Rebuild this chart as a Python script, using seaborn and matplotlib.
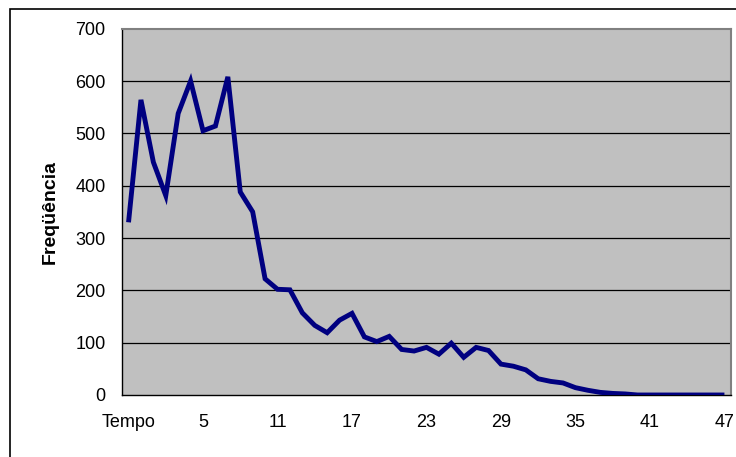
import numpy as np
import pandas as pd
import matplotlib
matplotlib.use("Agg")
import matplotlib.pyplot as plt
import seaborn as sns
from matplotlib.patches import Rectangle

# Category labels: "Tempo" followed by 0..47
categories = ["Tempo"] + [str(i) for i in range(48)]
frequencia = [330, 564, 445, 381, 538, 600, 505, 514, 608, 388,
              350, 222, 202, 201, 157, 133, 119, 143, 156, 111,
              102, 112, 87, 84, 91, 78, 99, 72, 91, 85,
              59, 55, 48, 31, 26, 23, 14, 9, 5, 3,
              2, 0, 0, 0, 0, 0, 0, 0, 0]
y_ticks = [0, 100, 200, 300, 400, 500, 600, 700]

df = pd.DataFrame({"pos": np.arange(len(categories)), "freq": frequencia})

sns.set_style("white")
plt.rcParams["font.family"] = ["Liberation Sans", "DejaVu Sans"]
plt.rcParams["text.color"] = "black"
plt.rcParams["axes.labelcolor"] = "black"
plt.rcParams["xtick.color"] = "black"
plt.rcParams["ytick.color"] = "black"

fig = plt.figure(figsize=(7.36, 4.57), dpi=100)
ax = fig.add_axes([0.1662, 0.1357, 0.8265, 0.8015])
ax.set_facecolor("#C0C0C0")

# grid lines
for v in y_ticks[1:-1]:
    ax.axhline(v, color="#000000", linewidth=0.9, zorder=1)

sns.lineplot(data=df, x="pos", y="freq", color="#000080", linewidth=3.5,
             ax=ax, zorder=3, solid_joinstyle="miter", solid_capstyle="butt")

ax.set_xlim(-0.5, len(categories) - 0.5)
ax.set_ylim(0, 700)

# category labels every 6th
major = list(range(0, len(categories), 6))
ax.set_xticks(major)
ax.set_xticklabels([categories[i] for i in major], fontsize=13)
ax.set_xticks(np.arange(-0.5, len(categories), 1), minor=True)
ax.tick_params(axis="x", which="major", length=0, pad=14)
ax.tick_params(axis="x", which="minor", length=5, width=1, direction="out")
ax.set_yticks(y_ticks)
ax.set_yticklabels([str(v) for v in y_ticks], fontsize=13)
ax.tick_params(axis="y", length=5, width=1, direction="out", pad=7)

ax.set_xlabel("")
ax.set_ylabel("Freqüência", fontsize=14, fontweight="bold", labelpad=12)

for side in ["top", "right"]:
    ax.spines[side].set_color("#808080")
    ax.spines[side].set_linewidth(1.5)
for side in ["left", "bottom"]:
    ax.spines[side].set_color("black")
    ax.spines[side].set_linewidth(1)

# chart area border
fig.patches.append(Rectangle((9.5 / 736, -0.1), 1.2, 1.1 - 9.5 / 457,
                             transform=fig.transFigure, fill=False,
                             edgecolor="black", linewidth=1.2))

fig.savefig("out.png", dpi=100)
